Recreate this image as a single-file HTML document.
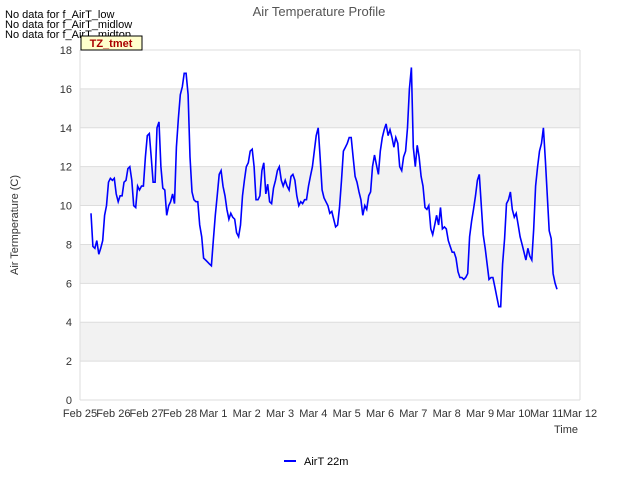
<!DOCTYPE html>
<html><head><meta charset="utf-8"><style>
body{margin:0;background:#fff;font-family:"Liberation Sans",sans-serif}
svg text{font-family:"Liberation Sans",sans-serif}
</style></head><body>
<svg width="640" height="480">
<rect width="640" height="480" fill="#fff"/>
<g id="bands"></g>
<g id="grid"></g>
<g id="yticks"></g>
<g id="xticks"></g>
<path id="line" fill="none" stroke="#0000ff" stroke-width="1.6"/>
<text x="319" y="16" text-anchor="middle" font-size="13" fill="#555">Air Temperature Profile</text>
<text x="5" y="18" font-size="11" fill="#000">No data for f_AirT_low</text>
<text x="5" y="28" font-size="11" fill="#000">No data for f_AirT_midlow</text>
<text x="5" y="38" font-size="11" fill="#000">No data for f_AirT_midtop</text>
<rect x="81" y="36" width="61" height="14" fill="#ffffcc" stroke="#000" stroke-width="1"/>
<text x="111" y="47" text-anchor="middle" font-size="11" font-weight="bold" fill="#aa0000">TZ_tmet</text>
<text x="18" y="225" text-anchor="middle" font-size="11" fill="#333" transform="rotate(-90 18 225)">Air Termperature (C)</text>
<text x="566" y="433" text-anchor="middle" font-size="11" fill="#333">Time</text>
<line x1="284" y1="461" x2="296" y2="461" stroke="#0000ff" stroke-width="2"/>
<text x="304" y="465" font-size="11" fill="#000">AirT 22m</text>
</svg>
<script>
const yTicks=[0,2,4,6,8,10,12,14,16,18];
const xLabels=["Feb 25","Feb 26","Feb 27","Feb 28","Mar 1","Mar 2","Mar 3","Mar 4","Mar 5","Mar 6","Mar 7","Mar 8","Mar 9","Mar 10","Mar 11","Mar 12"];
const startDay=0.33, endDay=14.31;
const temps=[9.6,7.9,7.8,8.2,7.5,7.8,8.2,9.5,10,11.2,11.4,11.3,11.4,10.6,10.2,10.5,10.5,11.2,11.3,11.9,12,11.3,10,9.9,11,10.8,11,11,12.5,13.6,13.7,12.5,11.2,11.2,14,14.3,12,10.9,10.8,9.5,10,10.2,10.6,10.1,13,14.5,15.7,16.1,16.8,16.8,15.7,12.5,10.7,10.3,10.2,10.2,9,8.4,7.3,7.2,7.1,7.0,6.9,8.2,9.5,10.5,11.6,11.8,11.0,10.5,9.8,9.3,9.6,9.4,9.3,8.6,8.4,9.0,10.5,11.3,12.0,12.2,12.8,12.9,12.0,10.3,10.3,10.5,11.8,12.2,10.6,11.1,10.2,10.1,10.9,11.3,11.8,12.0,11.3,11.0,11.3,11.0,10.8,11.5,11.6,11.3,10.5,10.0,10.2,10.1,10.3,10.3,11.0,11.5,12.0,12.8,13.6,14.0,12.5,10.8,10.4,10.2,10.0,9.6,9.7,9.3,8.9,9.0,9.9,11.3,12.8,13.0,13.2,13.5,13.5,12.5,11.5,11.2,10.7,10.3,9.5,10.0,9.8,10.5,10.7,12.0,12.6,12.1,11.6,12.8,13.5,13.9,14.2,13.6,13.9,13.5,13.0,13.5,13.2,12.0,11.8,12.5,12.8,14.0,16.0,17.1,13.0,12.0,13.1,12.5,11.5,11.0,9.9,9.8,10.0,8.8,8.5,9.0,9.5,9.0,9.9,8.8,8.9,8.8,8.2,7.9,7.6,7.6,7.3,6.6,6.3,6.3,6.2,6.3,6.5,8.4,9.2,9.8,10.5,11.3,11.6,10.0,8.5,7.8,7.0,6.2,6.3,6.3,5.8,5.3,4.8,4.8,7.0,8.3,10.1,10.3,10.7,9.8,9.4,9.6,9.0,8.4,8.0,7.6,7.2,7.8,7.4,7.2,8.8,11.0,12.0,12.8,13.2,14.0,12.3,10.5,8.7,8.3,6.5,6.0,5.7];
const X0=80,X1=580,Y0=400,Y1=50,ymin=0,ymax=18,days=15;
const xs=d=>X0+(d/days)*(X1-X0);
const ys=v=>Y0-(v-ymin)/(ymax-ymin)*(Y0-Y1);
const NS="http://www.w3.org/2000/svg";
function mk(tag,attrs,parent,txt){const e=document.createElementNS(NS,tag);for(const k in attrs)e.setAttribute(k,attrs[k]);if(txt!==undefined)e.textContent=txt;document.getElementById(parent).appendChild(e);return e;}
for(let i=0;i+1<yTicks.length;i++){
  if(i%2===1){const r=mk('rect',{x:X0,y:ys(yTicks[i+1]),width:X1-X0,height:ys(yTicks[i])-ys(yTicks[i+1]),fill:'#f2f2f2'},'bands');
  
  }
}
yTicks.forEach(v=>{
  const l=mk('line',{x1:X0,x2:X1,y1:ys(v),y2:ys(v),stroke:'#dddddd','stroke-width':1},'grid');
  
  
  const t=mk('text',{x:X0-8,y:ys(v)+4,'text-anchor':'end','font-size':11,fill:'#333'},'yticks',String(v));
  
  
});
const vl=mk('line',{x1:X0,x2:X0,y1:Y1,y2:Y0,stroke:'#dddddd'},'grid');


const vr=mk('line',{x1:X1,x2:X1,y1:Y1,y2:Y0,stroke:'#dddddd'},'grid');


xLabels.forEach((lab,i)=>{
  const t=mk('text',{x:xs(i),y:Y0+17,'text-anchor':'middle','font-size':11,fill:'#333'},'xticks',lab);
  
  
});
const step=(endDay-startDay)/(temps.length-1);
let d='';
temps.forEach((v,i)=>{d+=(i?'L':'M')+xs(startDay+i*step).toFixed(1)+','+ys(v).toFixed(1);});
document.getElementById('line').setAttribute('d',d);
</script>
</body></html>
